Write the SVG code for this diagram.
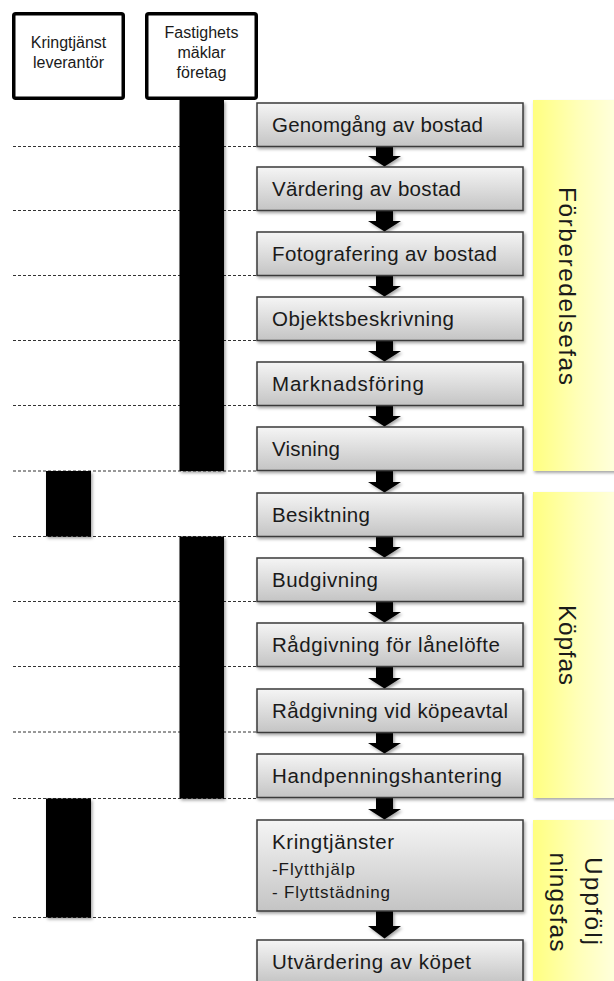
<svg xmlns="http://www.w3.org/2000/svg" width="614" height="981" viewBox="0 0 614 981">
<defs>
  <linearGradient id="boxg" x1="0" y1="0" x2="0" y2="1">
    <stop offset="0" stop-color="#f5f5f5"/>
    <stop offset="1" stop-color="#c4c4c4"/>
  </linearGradient>
  <linearGradient id="yel" x1="0" y1="0" x2="1" y2="0">
    <stop offset="0" stop-color="#ffff80"/>
    <stop offset="0.5" stop-color="#ffffb8"/>
    <stop offset="1" stop-color="#ffffe4"/>
  </linearGradient>
  <filter id="sh" x="-10%" y="-10%" width="130%" height="130%">
    <feDropShadow dx="1.5" dy="2" stdDeviation="1.5" flood-color="#000" flood-opacity="0.35"/>
  </filter>
</defs>
<style>
  text { font-family: "Liberation Sans", Arial, sans-serif; fill: #1a1a1a; }
  .step { fill: url(#boxg); stroke: #3a3a3a; stroke-width: 1.5; filter: url(#sh); }
  .lbl { font-size: 20.5px; }
  .sub { font-size: 17px; }
  .hdr { fill: #fff; stroke: #000; stroke-width: 3.5; }
  .htx { font-size: 16px; text-anchor: middle; }
  .bar { fill: #000; filter: url(#sh); }
  .dash { stroke: #333; stroke-width: 1; stroke-dasharray: 3 2; fill: none; }
  .panel { fill: url(#yel); filter: url(#sh); }
  .ptx { font-size: 24.5px; text-anchor: middle; }
  .arr { fill: #000; filter: url(#sh); }
</style>
<rect width="614" height="981" fill="#fff"/>

<g id="phases">
  <g id="phase-forberedelse">
    <rect class="panel" x="533" y="100" width="90" height="371"/>
    <text class="ptx" transform="translate(559,286) rotate(90)" textLength="198">Förberedelsefas</text>
  </g>
  <g id="phase-kop">
    <rect class="panel" x="533" y="492" width="90" height="306"/>
    <text class="ptx" transform="translate(559,645) rotate(90)" textLength="80">Köpfas</text>
  </g>
  <g id="phase-uppfoljning">
    <rect class="panel" x="533" y="820" width="90" height="175"/>
    <text class="ptx" transform="translate(585,901) rotate(90)" textLength="88">Uppfölj</text>
    <text class="ptx" transform="translate(550,902) rotate(90)" textLength="99">ningsfas</text>
  </g>
</g>

<g id="guides">
  <line class="dash" x1="13" y1="146.5" x2="257" y2="146.5"/>
  <line class="dash" x1="13" y1="210.5" x2="257" y2="210.5"/>
  <line class="dash" x1="13" y1="275.5" x2="257" y2="275.5"/>
  <line class="dash" x1="13" y1="340.5" x2="257" y2="340.5"/>
  <line class="dash" x1="13" y1="405.5" x2="257" y2="405.5"/>
  <line class="dash" x1="13" y1="471" x2="257" y2="471"/>
  <line class="dash" x1="13" y1="536.5" x2="257" y2="536.5"/>
  <line class="dash" x1="13" y1="601.5" x2="257" y2="601.5"/>
  <line class="dash" x1="13" y1="666.5" x2="257" y2="666.5"/>
  <line class="dash" x1="13" y1="732" x2="257" y2="732"/>
  <line class="dash" x1="13" y1="798.5" x2="257" y2="798.5"/>
  <line class="dash" x1="13" y1="917.5" x2="257" y2="917.5"/>
</g>

<g id="lane-kringtjanst">
  <rect class="hdr" x="13.75" y="13.75" width="109.5" height="84.5" rx="2"/>
  <text class="htx" x="68.5" y="48">Kringtjänst</text>
  <text class="htx" x="68.5" y="68">leverantör</text>
  <rect class="bar" x="46" y="471" width="45" height="65.5"/>
  <rect class="bar" x="46" y="798.5" width="45" height="119"/>
</g>

<g id="lane-maklare">
  <rect class="hdr" x="146.75" y="13.75" width="109.5" height="84.5" rx="2"/>
  <text class="htx" x="201.5" y="37.5">Fastighets</text>
  <text class="htx" x="201.5" y="58">mäklar</text>
  <text class="htx" x="201.5" y="78">företag</text>
  <rect class="bar" x="179.5" y="100" width="44.5" height="371"/>
  <rect class="bar" x="179.5" y="536.5" width="44.5" height="262"/>
</g>

<g id="connectors">
  <polygon class="arr" points="376,146.5 393,146.5 393,156 401,156 384.5,166.5 368,156 376,156"/>
  <polygon class="arr" points="376,210.5 393,210.5 393,221 401,221 384.5,231.5 368,221 376,221"/>
  <polygon class="arr" points="376,275.5 393,275.5 393,286 401,286 384.5,296.5 368,286 376,286"/>
  <polygon class="arr" points="376,340.5 393,340.5 393,351 401,351 384.5,361.5 368,351 376,351"/>
  <polygon class="arr" points="376,405.5 393,405.5 393,416 401,416 384.5,426.5 368,416 376,416"/>
  <polygon class="arr" points="376,470.5 393,470.5 393,482 401,482 384.5,492.5 368,482 376,482"/>
  <polygon class="arr" points="376,536.5 393,536.5 393,547 401,547 384.5,557.5 368,547 376,547"/>
  <polygon class="arr" points="376,601.5 393,601.5 393,612 401,612 384.5,622.5 368,612 376,612"/>
  <polygon class="arr" points="376,666.5 393,666.5 393,678 401,678 384.5,688.5 368,678 376,678"/>
  <polygon class="arr" points="376,732.5 393,732.5 393,743 401,743 384.5,753.5 368,743 376,743"/>
  <polygon class="arr" points="376,797.5 393,797.5 393,809 401,809 384.5,819.5 368,809 376,809"/>
  <polygon class="arr" points="376,911 393,911 393,926 401,926 384.5,938.5 368,926 376,926"/>
</g>

<g id="step-genomgang">
  <rect class="step" x="257" y="103" width="266" height="43.5"/>
  <text class="lbl" x="272" y="131.5" textLength="211">Genomgång av bostad</text>
</g>
<g id="step-vardering">
  <rect class="step" x="257" y="167" width="266" height="43.5"/>
  <text class="lbl" x="272" y="195.5" textLength="189">Värdering av bostad</text>
</g>
<g id="step-fotografering">
  <rect class="step" x="257" y="232" width="266" height="43.5"/>
  <text class="lbl" x="272" y="260.5" textLength="225">Fotografering av bostad</text>
</g>
<g id="step-objektsbeskrivning">
  <rect class="step" x="257" y="297" width="266" height="43.5"/>
  <text class="lbl" x="272" y="325.5" textLength="182">Objektsbeskrivning</text>
</g>
<g id="step-marknadsforing">
  <rect class="step" x="257" y="362" width="266" height="43.5"/>
  <text class="lbl" x="272" y="390.5" textLength="152">Marknadsföring</text>
</g>
<g id="step-visning">
  <rect class="step" x="257" y="427" width="266" height="43.5"/>
  <text class="lbl" x="272" y="455.5" textLength="68">Visning</text>
</g>
<g id="step-besiktning">
  <rect class="step" x="257" y="493" width="266" height="43.5"/>
  <text class="lbl" x="272" y="521.5" textLength="98">Besiktning</text>
</g>
<g id="step-budgivning">
  <rect class="step" x="257" y="558" width="266" height="43.5"/>
  <text class="lbl" x="272" y="586.5" textLength="106">Budgivning</text>
</g>
<g id="step-lanelofte">
  <rect class="step" x="257" y="623" width="266" height="43.5"/>
  <text class="lbl" x="272" y="651.5" textLength="228">Rådgivning för lånelöfte</text>
</g>
<g id="step-kopeavtal">
  <rect class="step" x="257" y="689" width="266" height="43.5"/>
  <text class="lbl" x="272" y="717.5" textLength="236">Rådgivning vid köpeavtal</text>
</g>
<g id="step-handpenning">
  <rect class="step" x="257" y="754" width="266" height="43.5"/>
  <text class="lbl" x="272" y="782.5" textLength="230">Handpenningshantering</text>
</g>
<g id="step-kringtjanster">
  <rect class="step" x="257" y="820" width="266" height="91"/>
  <text class="lbl" x="272" y="848.5" textLength="122">Kringtjänster</text>
  <text class="sub" x="272" y="875" textLength="83">-Flytthjälp</text>
  <text class="sub" x="272" y="898" textLength="118">- Flyttstädning</text>
</g>
<g id="step-utvardering">
  <rect class="step" x="257" y="940" width="266" height="43.5"/>
  <text class="lbl" x="272" y="968.5" textLength="199">Utvärdering av köpet</text>
</g>
</svg>
